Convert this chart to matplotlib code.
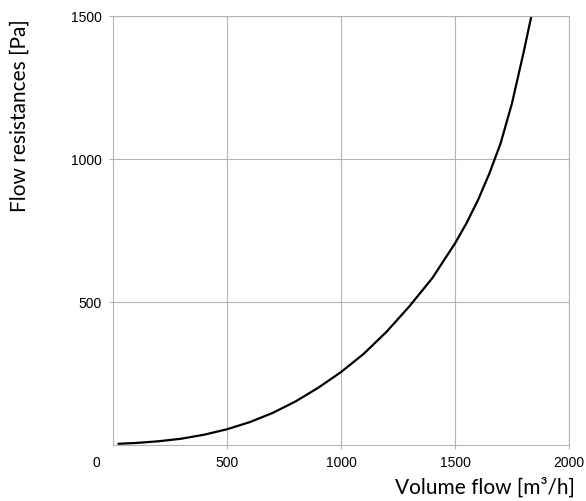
import matplotlib
matplotlib.use("Agg")
import matplotlib.pyplot as plt

# ── Data ──────────────────────────────────────────────────
flow = [20, 100, 200, 300, 400, 500, 600, 700, 800, 900, 1000, 1100, 1200,
        1300, 1400, 1500, 1550, 1600, 1650, 1700, 1750, 1800, 1835]
resistance = [4, 7, 13, 22, 36, 55, 80, 112, 152, 200, 255, 319, 396,
              485, 583, 705, 775, 855, 948, 1055, 1195, 1370, 1500]

x_ticks = [500, 1000, 1500, 2000]
y_ticks = [500, 1000, 1500]

_GRID = "#b4b4b4"

fig = plt.figure(figsize=(5.86, 5.01), dpi=100)
ax = fig.add_axes([0.1928, 0.1118, 0.7782, 0.8562])

ax.plot(flow, resistance, color="black", linewidth=1.6,
        solid_joinstyle="round", solid_capstyle="butt")

ax.set_xlim(0, 2000)
ax.set_ylim(0, 1500)
ax.set_xticks(x_ticks)
ax.set_yticks(y_ticks)
ax.set_xticklabels([str(v) for v in x_ticks], family="Liberation Sans", fontsize=10)
ax.set_yticklabels([str(v) for v in y_ticks], family="Liberation Sans", fontsize=10)
ax.tick_params(length=3, width=0.8, color=_GRID, pad=5)

ax.grid(True, color=_GRID, linewidth=0.8)
ax.set_axisbelow(True)
for sp in ax.spines.values():
    sp.set_color(_GRID)
    sp.set_linewidth(0.8)

# shared origin label
ax.annotate("0", xy=(0, 0), xytext=(-12, -13), textcoords="offset points",
            ha="center", va="center", family="Liberation Sans", fontsize=10)

fig.text(0.981, 0.026, "Volume flow [m³/h]", ha="right", va="center",
         family="Lato", fontsize=15)
fig.text(0.034, 0.77, "Flow resistances [Pa]", ha="center", va="center",
         rotation=90, family="Lato", fontsize=15)

fig.savefig("out.png", dpi=100, facecolor="white")
